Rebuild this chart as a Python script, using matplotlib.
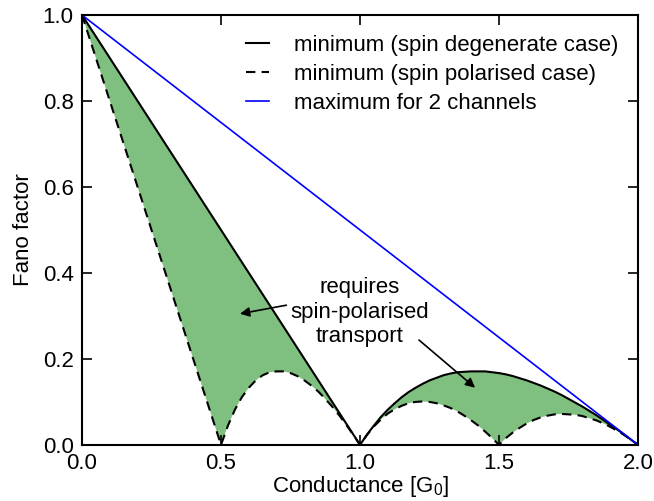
import numpy as np
import matplotlib.pyplot as plt

plt.rcParams['font.family'] = ['Liberation Sans', 'DejaVu Sans']
plt.rcParams['mathtext.fontset'] = 'custom'
plt.rcParams['mathtext.rm'] = 'Liberation Sans'

# minimum Fano factor, spin degenerate: straight drop to G=1, then one arch
deg_G = [0.0, 1.0, 1.025, 1.05, 1.075, 1.1, 1.125, 1.15, 1.175, 1.2, 1.225, 1.25,
         1.275, 1.3, 1.325, 1.35, 1.375, 1.4, 1.425, 1.45, 1.475, 1.5, 1.525,
         1.55, 1.575, 1.6, 1.625, 1.65, 1.675, 1.7, 1.725, 1.75, 1.775, 1.8,
         1.825, 1.85, 1.875, 1.9, 1.925, 1.95, 1.975, 2.0]
deg_F = [1.0, 0.0, 0.024, 0.045, 0.065, 0.082, 0.097, 0.111, 0.123, 0.133, 0.142,
         0.150, 0.156, 0.162, 0.166, 0.169, 0.170, 0.171, 0.171, 0.171, 0.169,
         0.167, 0.164, 0.160, 0.155, 0.150, 0.144, 0.138, 0.131, 0.124, 0.116,
         0.107, 0.098, 0.089, 0.079, 0.069, 0.058, 0.047, 0.036, 0.024, 0.012, 0.0]

# minimum Fano factor, spin polarised: drop to G=0.5, then three arches
pol_G = [0.0, 0.5, 0.525, 0.55, 0.575, 0.6, 0.625, 0.65, 0.675, 0.7, 0.725, 0.75,
         0.775, 0.8, 0.825, 0.85, 0.875, 0.9, 0.925, 0.95, 0.975, 1.0,
         1.025, 1.05, 1.075, 1.1, 1.125, 1.15, 1.175, 1.2, 1.225, 1.25,
         1.275, 1.3, 1.325, 1.35, 1.375, 1.4, 1.425, 1.45, 1.475, 1.5,
         1.525, 1.55, 1.575, 1.6, 1.625, 1.65, 1.675, 1.7, 1.725, 1.75,
         1.775, 1.8, 1.825, 1.85, 1.875, 1.9, 1.925, 1.95, 1.975, 2.0]
pol_F = [1.0, 0.0, 0.045, 0.082, 0.111, 0.133, 0.150, 0.162, 0.169, 0.171, 0.171,
         0.167, 0.160, 0.150, 0.138, 0.124, 0.107, 0.089, 0.069, 0.047, 0.024, 0.0,
         0.023, 0.043, 0.059, 0.073, 0.083, 0.091, 0.097, 0.100, 0.101, 0.100,
         0.097, 0.092, 0.086, 0.078, 0.068, 0.057, 0.045, 0.031, 0.016, 0.0,
         0.016, 0.029, 0.040, 0.050, 0.058, 0.064, 0.068, 0.071, 0.072, 0.071,
         0.070, 0.067, 0.062, 0.057, 0.050, 0.042, 0.033, 0.023, 0.012, 0.0]

# maximum for two channels
max_G = [0.0, 2.0]
max_F = [1.0, 0.0]

fig = plt.figure(figsize=(6.54, 5.01), dpi=100)
ax = fig.add_axes([0.1254, 0.112, 0.8502, 0.858])

# shaded region between the two minima
fill_x = np.concatenate([deg_G, pol_G[::-1]])
fill_y = np.concatenate([deg_F, pol_F[::-1]])
ax.fill(fill_x, fill_y, color='green', alpha=0.5, lw=0)

ax.plot(deg_G, deg_F, 'k-', lw=1.5, label='minimum (spin degenerate case)')
ax.plot(pol_G, pol_F, 'k--', lw=1.5, dashes=(4.5, 3),
        label='minimum (spin polarised case)')
ax.plot(max_G, max_F, 'b-', lw=1.2, label='maximum for 2 channels')

ax.text(1.0, 0.309, 'requires\nspin-polarised\ntransport', ha='center',
        va='center', fontsize=16, linespacing=1.2)
ax.annotate('', xy=(0.568, 0.305), xytext=(0.735, 0.325),
            arrowprops=dict(arrowstyle='-|>', color='k', lw=1.2,
                            mutation_scale=14, shrinkA=0, shrinkB=0))
ax.annotate('', xy=(1.414, 0.133), xytext=(1.212, 0.244),
            arrowprops=dict(arrowstyle='-|>', color='k', lw=1.2,
                            mutation_scale=14, shrinkA=0, shrinkB=0))

ax.set_xlim(0, 2)
ax.set_ylim(0, 1)
ax.set_xticks([0.0, 0.5, 1.0, 1.5, 2.0])
ax.set_yticks([0.0, 0.2, 0.4, 0.6, 0.8, 1.0])
ax.xaxis.set_major_formatter(plt.FormatStrFormatter('%.1f'))
ax.yaxis.set_major_formatter(plt.FormatStrFormatter('%.1f'))
ax.tick_params(direction='in', top=True, right=True, length=7, width=1.2,
               labelsize=16, pad=6)
for s in ax.spines.values():
    s.set_linewidth(1.5)

ax.set_xlabel('Conductance [G$_0$]', fontsize=16, labelpad=0)
ax.set_ylabel('Fano factor', fontsize=16, labelpad=6)

ax.legend(loc='upper right', frameon=False, fontsize=16, handlelength=1.05,
          handletextpad=1.1, labelspacing=0.35, borderaxespad=0.5)

fig.savefig('out.png', dpi=100)
